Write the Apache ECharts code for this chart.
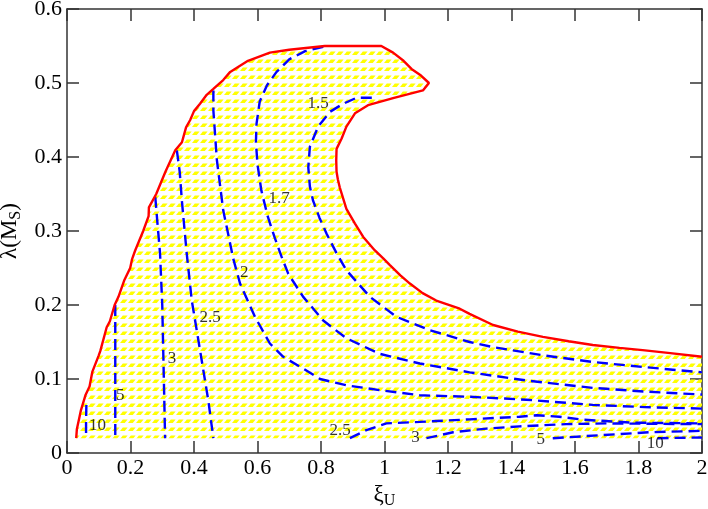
<!DOCTYPE html>
<html><head><meta charset="utf-8">
<script src="https://cdn.jsdelivr.net/npm/echarts@6.0.0/dist/echarts.min.js"></script>
<style>html,body{margin:0;padding:0;background:#fff}#c{width:708px;height:509px}</style>
</head><body><div id="c"></div>
<script>
// ---- data ----
const redBoundary = [[0.029,0.020],[0.031,0.032],[0.040,0.050],[0.044,0.058],[0.058,0.078],[0.071,0.090],[0.080,0.110],[0.100,0.132],[0.105,0.138],[0.125,0.170],[0.135,0.178],[0.150,0.200],[0.162,0.211],[0.180,0.233],[0.199,0.250],[0.205,0.262],[0.215,0.274],[0.240,0.300],[0.257,0.320],[0.258,0.332],[0.281,0.350],[0.310,0.380],[0.341,0.409],[0.362,0.420],[0.375,0.440],[0.388,0.450],[0.400,0.462],[0.419,0.472],[0.440,0.484],[0.461,0.492],[0.492,0.504],[0.514,0.515],[0.540,0.522],[0.570,0.530],[0.639,0.541],[0.700,0.545],[0.812,0.550],[0.990,0.550],[1.027,0.541],[1.060,0.530],[1.085,0.519],[1.115,0.510],[1.140,0.500],[1.121,0.490],[1.030,0.480],[0.948,0.470],[0.907,0.459],[0.880,0.441],[0.865,0.425],[0.849,0.411],[0.848,0.395],[0.849,0.380],[0.853,0.370],[0.859,0.359],[0.880,0.330],[0.907,0.310],[0.933,0.292],[0.969,0.274],[0.996,0.263],[1.017,0.254],[1.050,0.240],[1.080,0.229],[1.120,0.216],[1.163,0.206],[1.237,0.195],[1.268,0.188],[1.342,0.173],[1.420,0.164],[1.499,0.157],[1.580,0.151],[1.656,0.146],[1.740,0.142],[1.813,0.139],[1.900,0.135],[2.000,0.130]];
const regionFloor = [[2.000,0.020],[0.029,0.020]];

const c10L = [[0.061,0.065],[0.060,0.040],[0.060,0.020]];
const c5L  = [[0.152,0.200],[0.152,0.120],[0.152,0.020]];
const c3L  = [[0.278,0.346],[0.285,0.310],[0.293,0.270],[0.300,0.200],[0.305,0.100],[0.309,0.020]];
const c25L = [[0.346,0.409],[0.355,0.380],[0.362,0.340],[0.377,0.270],[0.393,0.206],[0.419,0.139],[0.445,0.071],[0.461,0.020]];
const c2   = [[0.461,0.490],[0.461,0.463],[0.472,0.396],[0.492,0.328],[0.524,0.262],[0.545,0.229],[0.592,0.184],[0.639,0.148],[0.681,0.130],[0.740,0.115],[0.797,0.100],[0.880,0.0915],[0.985,0.085],[1.111,0.078],[1.268,0.076],[1.447,0.072],[1.656,0.065],[1.820,0.062],[2.000,0.060]];
const c17  = [[0.807,0.549],[0.750,0.543],[0.700,0.532],[0.660,0.515],[0.630,0.497],[0.607,0.475],[0.597,0.445],[0.595,0.420],[0.600,0.390],[0.612,0.355],[0.632,0.320],[0.655,0.290],[0.676,0.265],[0.697,0.242],[0.744,0.211],[0.807,0.179],[0.880,0.155],[0.985,0.134],[1.111,0.121],[1.268,0.109],[1.447,0.098],[1.656,0.088],[1.820,0.083],[2.000,0.079]];
const c15  = [[0.960,0.480],[0.912,0.480],[0.870,0.472],[0.828,0.461],[0.791,0.441],[0.765,0.414],[0.760,0.386],[0.765,0.360],[0.775,0.341],[0.795,0.318],[0.818,0.296],[0.849,0.270],[0.880,0.247],[0.954,0.211],[1.038,0.184],[1.142,0.166],[1.268,0.150],[1.342,0.143],[1.499,0.132],[1.656,0.123],[1.820,0.116],[2.000,0.109]];
const c25B = [[0.891,0.020],[0.943,0.031],[1.006,0.040],[1.111,0.042],[1.268,0.0455],[1.425,0.049],[1.480,0.051],[1.550,0.049],[1.624,0.045],[1.782,0.041],[2.000,0.040]];
const c3B  = [[1.132,0.020],[1.216,0.028],[1.321,0.033],[1.425,0.036],[1.572,0.039],[1.700,0.040],[2.000,0.039]];
const c5B  = [[1.530,0.020],[1.677,0.024],[1.834,0.028],[2.000,0.030]];
const c10B = [[1.860,0.020],[2.000,0.021]];

const labelTexts = ['1.5','1.7','2','2.5','3','5','10','2.5','3','5','10'];
const labelX     = [0.791,0.668,0.558,0.451,0.331,0.168,0.096,0.860,1.098,1.492,1.853];
const labelY     = [0.472,0.344,0.244,0.183,0.128,0.078,0.0375,0.0307,0.0212,0.0185,0.0131];

const xRange = [0, 2], xStep = 0.2;
const yRange = [0, 0.6], yStep = 0.1;

// ---- hatch pattern ----
const tile = document.createElement('canvas');
tile.width = 8; tile.height = 8;
(function(){
  const g = tile.getContext('2d');
  g.fillStyle = '#ffff00';
  g.beginPath();
  g.moveTo(0,7); g.lineTo(4.8,7); g.lineTo(7.6,3.4); g.lineTo(2.8,3.4); g.closePath();
  g.fill();
})();
const hatch = {image: tile, repeat: 'repeat'};

const FONT = "'Liberation Serif','Times New Roman',serif";
const contours = [c10L,c5L,c3L,c25L,c2,c17,c15,c25B,c3B,c5B,c10B];
const regionPts = redBoundary.concat(regionFloor);

const chart = echarts.init(document.getElementById('c'), null, {renderer:'canvas'});
const axisLine = {show:true, onZero:false, lineStyle:{color:'#333', width:1.5}};
const tick = {show:true, inside:true, length:12, lineStyle:{color:'#333', width:1.5}};
const series = [];
series.push({
  type:'custom', z:1, silent:true, clip:false,
  data:[[0,0]],
  renderItem:function(params, api){
    const pts = regionPts.map(p => api.coord(p));
    return {type:'polygon', shape:{points:pts}, style:{fill:hatch, stroke:null}};
  }
});
contours.forEach(function(c){
  series.push({type:'line', data:c, z:2, showSymbol:false, symbol:'none', silent:true,
    lineStyle:{color:'#0000ff', width:2.4, type:[11,6]}});
});
series.push({type:'line', data:redBoundary, z:3, showSymbol:false, symbol:'none', silent:true,
  lineStyle:{color:'#ff0000', width:2.4}});
series.push({type:'scatter', z:4, symbolSize:0, silent:true,
  data: labelTexts.map((t,i)=>({name:t, value:[labelX[i], labelY[i]]})),
  label:{show:true, position:'inside', formatter:'{b}', color:'#000', fontFamily:FONT, fontSize:17}});

chart.setOption({
  animation:false,
  grid:{left:67, right:6, top:9, bottom:56, containLabel:false, outerBoundsMode:'none'},
  xAxis:[{
    type:'value', min:xRange[0], max:xRange[1], interval:xStep, position:'bottom',
    axisLine:axisLine, splitLine:{show:false}, axisTick:tick,
    axisLabel:{color:'#000', fontFamily:FONT, fontSize:22, margin:4, showMinLabel:true, showMaxLabel:true},
    name:'ξ{u|U}', nameLocation:'middle', nameGap:24,
    nameTextStyle:{color:'#000', fontFamily:FONT, fontSize:23,
      rich:{u:{fontFamily:FONT, fontSize:16, color:'#000', verticalAlign:'bottom', padding:[11,0,0,0]}}}
  },{
    type:'value', min:xRange[0], max:xRange[1], interval:xStep, position:'top',
    axisLine:axisLine, splitLine:{show:false}, axisTick:tick,
    axisLabel:{show:false}
  }],
  yAxis:[{
    type:'value', min:yRange[0], max:yRange[1], interval:yStep, position:'left',
    axisLine:axisLine, splitLine:{show:false}, axisTick:tick,
    axisLabel:{color:'#000', fontFamily:FONT, fontSize:22, margin:5},
    name:'λ(M{s|S})', nameLocation:'middle', nameGap:38, nameRotate:90,
    nameTextStyle:{color:'#000', fontFamily:FONT, fontSize:23,
      rich:{s:{fontFamily:FONT, fontSize:16, color:'#000', verticalAlign:'bottom', padding:[11,0,0,0]}}}
  },{
    type:'value', min:yRange[0], max:yRange[1], interval:yStep, position:'right',
    axisLine:axisLine, splitLine:{show:false}, axisTick:tick,
    axisLabel:{show:false}
  }],
  series:series
});
</script>
</body></html>
